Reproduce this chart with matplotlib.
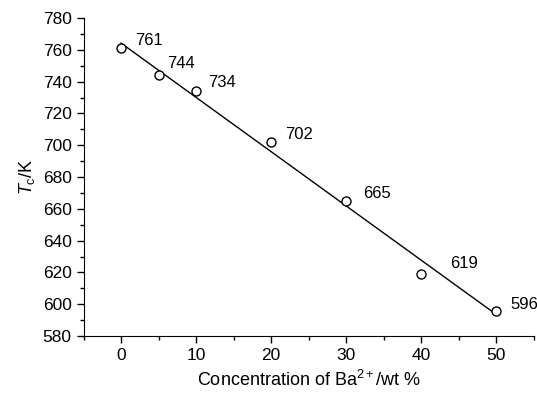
import numpy as np
import matplotlib
matplotlib.use('Agg')
import matplotlib.pyplot as plt
from matplotlib.ticker import MultipleLocator

plt.rcParams['font.family'] = ['Liberation Sans', 'DejaVu Sans']
plt.rcParams['mathtext.fontset'] = 'custom'
plt.rcParams['mathtext.rm'] = 'Liberation Sans'
plt.rcParams['mathtext.it'] = 'Liberation Sans:italic'

# data
conc = [0, 5, 10, 20, 30, 40, 50]
tc = [761, 744, 734, 702, 665, 619, 596]
labels = ['761', '744', '734', '702', '665', '619', '596']
# label offsets in points (dx, dy)
offsets = [(10, 0), (6, 3), (9, 1), (10, 0), (12, 0), (21, 2), (10, -1)]

fig = plt.figure(figsize=(5.37, 3.93), dpi=100)
ax = fig.add_axes([0.1555, 0.145, 0.838, 0.809])

# linear fit line
k, b = np.polyfit(conc, tc, 1)
xf = np.array([conc[0], conc[-1]])
ax.plot(xf, k * xf + b, color='black', lw=1.0)
ax.plot(conc, tc, 'o', mfc='white', mec='black', ms=6.5, mew=1.0)

for x, y, s, (dx, dy) in zip(conc, tc, labels, offsets):
    ax.annotate(s, (x, y), xytext=(dx, dy), textcoords='offset points',
                fontsize=12, ha='left', va='bottom')

ax.set_xlim(-5, 55)
ax.set_ylim(580, 780)
ax.xaxis.set_major_locator(MultipleLocator(10))
ax.xaxis.set_minor_locator(MultipleLocator(5))
ax.yaxis.set_major_locator(MultipleLocator(20))
ax.yaxis.set_minor_locator(MultipleLocator(10))
ax.spines['top'].set_visible(False)
ax.spines['right'].set_visible(False)
ax.tick_params(which='major', direction='out', length=5, width=1, labelsize=12.5)
ax.tick_params(which='minor', direction='out', length=3, width=1)

ax.set_xlabel('Concentration of Ba$^{2+}$/wt %', fontsize=13, labelpad=5)
ax.set_ylabel(r'$T_{\mathrm{c}}$/K', fontsize=13, labelpad=4)

fig.savefig('out.png', dpi=100)
